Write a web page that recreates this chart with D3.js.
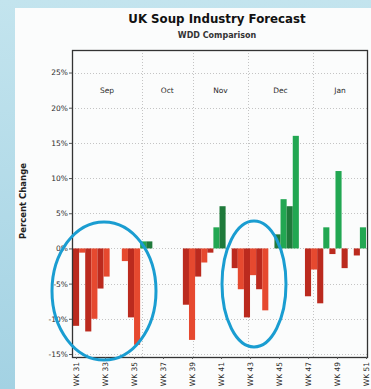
<!DOCTYPE html>
<html lang="en">
<head>
    <meta charset="UTF-8">
    <title>UK Soup Industry Forecast</title>
    <script src="https://d3js.org/d3.v7.min.js"></script>
    <style>
        html, body {
            margin: 0;
            padding: 0;
            background: #abd7e6;
        }
        #chart {
            width: 371px;
            height: 389px;
        }
        .title {
            font-family: 'DejaVu Sans', sans-serif;
            font-weight: bold;
            font-size: 11.8px;
            fill: #111;
            text-anchor: middle;
        }
        .subtitle {
            font-family: 'DejaVu Sans', sans-serif;
            font-weight: bold;
            font-size: 8px;
            fill: #333;
            text-anchor: middle;
        }
        .tick-label {
            font-family: 'DejaVu Sans', sans-serif;
            font-size: 7.5px;
            fill: #2a2a2a;
        }
        .grid {
            stroke: #c4c4c4;
            stroke-width: 1px;
            stroke-dasharray: 1,2;
        }
    </style>
</head>
<body>
    <div id="chart"></div>
    <script>
        // months shown in the header row, with their edges in week numbers
        const months = ["Sep", "Oct", "Nov", "Dec", "Jan"];
        const monthEdges = [30.75, 35.52, 39.07, 42.86, 47.34, 51.07];

        const weekTicks = [31, 33, 35, 37, 39, 41, 43, 45, 47, 49, 51];
        const yTicks = [-15, -10, -5, 0, 5, 10, 15, 20, 25];

        // percent change per bar, left to right (0 = no bar)
        const barValues = [
            -11, -0.6, -11.8, -10, -5.7, -4, 0, 0, -1.8, -9.8,
            -13.7, 1, 1, 0, 0, 0, 0, 0, -8, -13,
            -4, -2, -0.6, 3, 6, 0, -2.8, -5.8, -9.8, -3.8,
            -5.8, -8.8, 0, 2, 7, 6, 16, 0, -6.8, -3,
            -7.8, 3, -0.8, 11, -2.8, 0, -1, 3
        ];
        // which of the two alternating series each bar belongs to
        const barSeries = [
            "A", "B", "A", "B", "A", "B", "A", "B", "B", "A",
            "B", "B", "A", "A", "B", "A", "B", "A", "A", "B",
            "A", "B", "A", "B", "A", "B", "A", "B", "A", "B",
            "A", "B", "A", "A", "B", "A", "B", "A", "A", "B",
            "A", "B", "A", "B", "A", "B", "A", "B"
        ];

        const width = 371;
        const height = 389;
        const plot = { left: 72, right: 368, top: 50, bottom: 357 };

        const svg = d3.select("#chart")
            .append("svg")
            .attr("width", width)
            .attr("height", height);

        // background panel
        const defs = svg.append("defs");
        const bg = defs.append("linearGradient")
            .attr("id", "bgGrad")
            .attr("x1", "0%").attr("x2", "0%")
            .attr("y1", "0%").attr("y2", "100%");
        bg.append("stop").attr("offset", "0%").attr("stop-color", "#c3e4ee");
        bg.append("stop").attr("offset", "100%").attr("stop-color", "#a3d2e3");

        svg.append("rect")
            .attr("width", width)
            .attr("height", height)
            .attr("fill", "url(#bgGrad)");

        svg.append("rect")
            .attr("x", 15)
            .attr("y", 8)
            .attr("width", width - 15)
            .attr("height", height - 8)
            .attr("fill", "#fbfcfc");

        // scales
        const y = d3.scaleLinear()
            .domain([-15.43, 28.2])
            .range([plot.bottom, plot.top]);

        const x = d3.scaleBand()
            .domain(d3.range(barValues.length))
            .range([73, 366])
            .padding(0);

        const week = d3.scaleLinear()
            .domain([31, 51])
            .range([76, 366]);

        const color = d3.scaleOrdinal()
            .domain(["negA", "negB", "posA", "posB"])
            .range(["#bb2a1e", "#e6492f", "#1f7a3b", "#22a752"]);

        // titles
        svg.append("text")
            .attr("class", "title")
            .attr("x", 217)
            .attr("y", 23)
            .text("UK Soup Industry Forecast");

        svg.append("text")
            .attr("class", "subtitle")
            .attr("x", 217)
            .attr("y", 38)
            .text("WDD Comparison");

        // horizontal grid
        svg.append("g")
            .selectAll("line")
            .data(yTicks)
            .enter()
            .append("line")
            .attr("class", "grid")
            .attr("x1", plot.left)
            .attr("x2", plot.right)
            .attr("y1", d => Math.round(y(d)) + 0.5)
            .attr("y2", d => Math.round(y(d)) + 0.5);

        // month separators
        svg.append("g")
            .selectAll("line")
            .data(monthEdges.slice(1, -1))
            .enter()
            .append("line")
            .attr("class", "grid")
            .attr("x1", d => Math.round(week(d)) + 0.5)
            .attr("x2", d => Math.round(week(d)) + 0.5)
            .attr("y1", plot.top)
            .attr("y2", plot.bottom);

        // month labels
        svg.append("g")
            .selectAll("text")
            .data(months)
            .enter()
            .append("text")
            .attr("class", "tick-label")
            .attr("text-anchor", "middle")
            .attr("x", (d, i) => (week(monthEdges[i]) + week(monthEdges[i + 1])) / 2)
            .attr("y", y(22.5) + 3)
            .text(d => d);

        // bars
        svg.append("g")
            .selectAll("rect")
            .data(barValues.map((v, i) => ({ i, v, s: barSeries[i] })).filter(d => d.v !== 0))
            .enter()
            .append("rect")
            .attr("x", d => x(d.i))
            .attr("width", x.bandwidth())
            .attr("y", d => y(Math.max(0, d.v)))
            .attr("height", d => Math.abs(y(d.v) - y(0)))
            .attr("fill", d => color((d.v < 0 ? "neg" : "pos") + d.s));

        // frame
        svg.append("rect")
            .attr("x", plot.left + 0.5)
            .attr("y", plot.top + 0.5)
            .attr("width", plot.right - plot.left - 1)
            .attr("height", plot.bottom - plot.top)
            .attr("fill", "none")
            .attr("stroke", "#333")
            .attr("stroke-width", 1.3);

        // y axis
        const yAxis = d3.axisLeft(y)
            .tickValues(yTicks)
            .tickSize(3)
            .tickPadding(1)
            .tickFormat(d => d + "%");

        svg.append("g")
            .attr("transform", `translate(${plot.left},0)`)
            .call(yAxis)
            .call(g => g.select(".domain").remove())
            .call(g => g.selectAll("line").attr("stroke", "#555"))
            .call(g => g.selectAll("text")
                .attr("class", "tick-label")
                .attr("font-size", null)
                .attr("font-family", null));

        // x axis (weeks)
        const xAxis = d3.axisBottom(week)
            .tickValues(weekTicks)
            .tickSize(2)
            .tickFormat(d => "WK " + d);

        svg.append("g")
            .attr("transform", `translate(0,${plot.bottom})`)
            .call(xAxis)
            .call(g => g.select(".domain").remove())
            .call(g => g.selectAll("line").attr("stroke", "#555"))
            .call(g => g.selectAll("text")
                .attr("class", "tick-label")
                .attr("font-size", null)
                .attr("font-family", null)
                .attr("text-anchor", "end")
                .attr("transform", "rotate(-90)")
                .attr("x", -5)
                .attr("y", 0)
                .attr("dy", "0.35em"));

        // y axis title
        svg.append("text")
            .attr("transform", "translate(26,201) rotate(-90)")
            .attr("text-anchor", "middle")
            .attr("font-family", "'DejaVu Sans', sans-serif")
            .attr("font-weight", "bold")
            .attr("font-size", "8.5px")
            .attr("fill", "#222")
            .text("Percent Change");

        // hand-drawn highlight ellipses
        const highlights = [
            { cx: 104, cy: 291, rx: 52, ry: 69 },
            { cx: 254, cy: 284, rx: 32, ry: 63 }
        ];
        svg.append("g")
            .selectAll("ellipse")
            .data(highlights)
            .enter()
            .append("ellipse")
            .attr("cx", d => d.cx)
            .attr("cy", d => d.cy)
            .attr("rx", d => d.rx)
            .attr("ry", d => d.ry)
            .attr("fill", "none")
            .attr("stroke", "#1a9dd1")
            .attr("stroke-width", 3);
    </script>
</body>
</html>
